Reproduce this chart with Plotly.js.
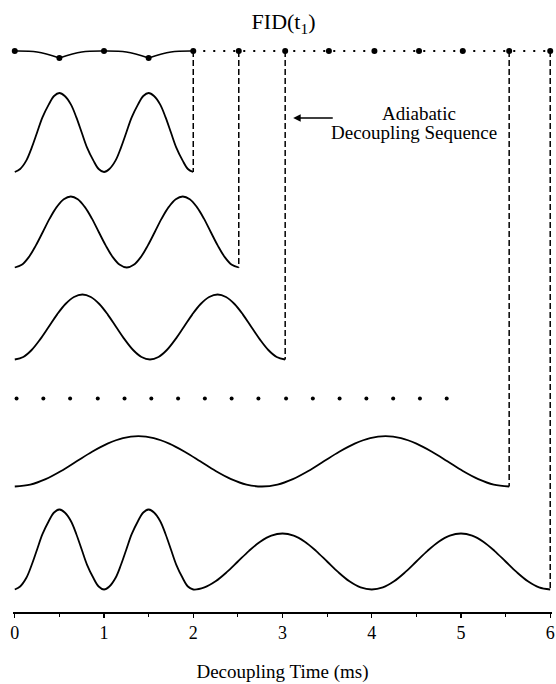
<!DOCTYPE html>
<html>
<head>
<meta charset="utf-8">
<script src="https://cdn.plot.ly/plotly-3.0.1.min.js"></script>
<style>html,body{margin:0;padding:0;background:#fff}#chart{width:556px;height:684px}</style>
</head>
<body>
<div id="chart"></div>
<script>
// ---- data (x in ms, y in arbitrary signal level) ----
const xTicks = [0, 1, 2, 3, 4, 5, 6];

// FID(t1) sampling points (top row)
const fidX = [0, 0.5, 1, 1.5, 2, 2.51, 3.03, 3.52, 4.03, 4.53, 5.02, 5.54, 6];
const fidY = [561, 554, 561, 554, 561, 561, 561, 561, 561, 561, 561, 561, 561];
// solid envelope between first points (arcs, null-separated)
const envX = [0, 0.25, 0.5, null, 0.5, 0.75, 1, null, 1, 1.25, 1.5, null, 1.5, 1.75, 2];
const envY = [561, 560, 554, null, 554, 560, 561, null, 561, 560, 554, null, 554, 560, 561];
// dotted continuation
const dotLineX = [2, 6];
const dotLineY = [561, 561];

// waveforms (points read at 1/16-period spacing)
const c1X = [0, 0.06, 0.13, 0.19, 0.25, 0.31, 0.38, 0.44, 0.5, 0.56, 0.63, 0.69, 0.75, 0.81, 0.88, 0.94, 1,
             1.06, 1.13, 1.19, 1.25, 1.31, 1.38, 1.44, 1.5, 1.56, 1.63, 1.69, 1.75, 1.81, 1.88, 1.94, 2];
const c1Y = [440, 443, 451.6, 464.4, 479.5, 494.6, 507.4, 516, 519, 516, 507.4, 494.6, 479.5, 464.4, 451.6, 443, 440,
             443, 451.6, 464.4, 479.5, 494.6, 507.4, 516, 519, 516, 507.4, 494.6, 479.5, 464.4, 451.6, 443, 440];
const c2X = [0, 0.078, 0.157, 0.235, 0.314, 0.392, 0.471, 0.549, 0.628, 0.706, 0.784, 0.863, 0.941, 1.02, 1.098, 1.177, 1.255,
             1.333, 1.412, 1.49, 1.569, 1.647, 1.726, 1.804, 1.882, 1.961, 2.039, 2.118, 2.196, 2.275, 2.353, 2.432, 2.51];
const c2Y = [344.5, 347.2, 354.9, 366.4, 380, 393.6, 405.1, 412.8, 415.5, 412.8, 405.1, 393.6, 380, 366.4, 354.9, 347.2, 344.5,
             347.2, 354.9, 366.4, 380, 393.6, 405.1, 412.8, 415.5, 412.8, 405.1, 393.6, 380, 366.4, 354.9, 347.2, 344.5];
const c3X = [0, 0.095, 0.189, 0.284, 0.379, 0.473, 0.568, 0.663, 0.758, 0.852, 0.947, 1.042, 1.136, 1.231, 1.326, 1.42, 1.515,
             1.61, 1.704, 1.799, 1.894, 1.988, 2.083, 2.178, 2.273, 2.367, 2.462, 2.557, 2.651, 2.746, 2.841, 2.935, 3.03];
const c3Y = [252.5, 255, 262, 272.6, 285, 297.4, 308, 315, 317.5, 315, 308, 297.4, 285, 272.6, 262, 255, 252.5,
             255, 262, 272.6, 285, 297.4, 308, 315, 317.5, 315, 308, 297.4, 285, 272.6, 262, 255, 252.5];
const c5X = [0, 0.173, 0.346, 0.519, 0.693, 0.866, 1.039, 1.212, 1.385, 1.558, 1.731, 1.904, 2.078, 2.251, 2.424, 2.597, 2.77,
             2.943, 3.116, 3.289, 3.463, 3.636, 3.809, 3.982, 4.155, 4.328, 4.501, 4.674, 4.848, 5.021, 5.194, 5.367, 5.54];
const c5Y = [125.5, 127.4, 132.9, 141, 150.7, 160.3, 168.4, 173.9, 175.8, 173.9, 168.4, 160.3, 150.7, 141, 132.9, 127.4, 125.5,
             127.4, 132.9, 141, 150.7, 160.3, 168.4, 173.9, 175.8, 173.9, 168.4, 160.3, 150.7, 141, 132.9, 127.4, 125.5];
const c6X = [0, 0.06, 0.13, 0.19, 0.25, 0.31, 0.38, 0.44, 0.5, 0.56, 0.63, 0.69, 0.75, 0.81, 0.88, 0.94, 1,
             1.06, 1.13, 1.19, 1.25, 1.31, 1.38, 1.44, 1.5, 1.56, 1.63, 1.69, 1.75, 1.81, 1.88, 1.94, 2,
             2.125, 2.25, 2.375, 2.5, 2.625, 2.75, 2.875, 3, 3.125, 3.25, 3.375, 3.5, 3.625, 3.75, 3.875, 4,
             4.125, 4.25, 4.375, 4.5, 4.625, 4.75, 4.875, 5, 5.125, 5.25, 5.375, 5.5, 5.625, 5.75, 5.875, 6];
const c6Y = [22.5, 25.5, 34.2, 47.2, 62.5, 77.8, 90.8, 99.5, 102.5, 99.5, 90.8, 77.8, 62.5, 47.2, 34.2, 25.5, 22.5,
             25.5, 34.2, 47.2, 62.5, 77.8, 90.8, 99.5, 102.5, 99.5, 90.8, 77.8, 62.5, 47.2, 34.2, 25.5, 22.5,
             24.6, 30.7, 39.8, 50.5, 61.2, 70.3, 76.4, 78.5, 76.4, 70.3, 61.2, 50.5, 39.8, 30.7, 24.6, 22.5,
             24.6, 30.7, 39.8, 50.5, 61.2, 70.3, 76.4, 78.5, 76.4, 70.3, 61.2, 50.5, 39.8, 30.7, 24.6, 22.5];

// ellipsis row of dots
const ellX = [0.02, 0.32, 0.62, 0.93, 1.23, 1.53, 1.83, 2.13, 2.43, 2.73, 3.04, 3.34, 3.64, 3.94, 4.24, 4.54, 4.84];
const ellY = ellX.map(() => 213.5);

// dashed connectors from FID points down to waveform ends
const dashX = [2, 2.51, 3.03, 5.54, 6];
const dashTop = [561, 561, 561, 561, 561];
const dashBottom = [440, 344.5, 252.5, 125.5, 22.5];

// ---- build traces ----
const black = '#000';
const serif = 'Liberation Serif, Times New Roman, serif';
const dX = [], dY = [];
dashX.forEach((x, i) => { dX.push(x, x, null); dY.push(dashTop[i], dashBottom[i], null); });

const wave = (x, y) => ({x: x, y: y, mode: 'lines', type: 'scatter',
  line: {color: black, width: 1.8, shape: 'spline', smoothing: 1}, hoverinfo: 'skip'});

const traces = [
  {x: dX, y: dY, mode: 'lines', line: {color: black, width: 1.5, dash: '6px,3px'}, connectgaps: false, hoverinfo: 'skip'},
  {x: dotLineX, y: dotLineY, mode: 'lines', line: {color: black, width: 2.2, dash: '2px,8px'}, hoverinfo: 'skip'},
  {x: envX, y: envY, mode: 'lines', line: {color: black, width: 1.6, shape: 'spline'}, connectgaps: false, hoverinfo: 'skip'},
  {x: fidX, y: fidY, mode: 'markers', marker: {color: black, size: 6}, hoverinfo: 'skip', cliponaxis: false},
  wave(c1X, c1Y), wave(c2X, c2Y), wave(c3X, c3Y), wave(c5X, c5Y), wave(c6X, c6Y),
  {x: ellX, y: ellY, mode: 'markers', marker: {color: black, size: 4}, hoverinfo: 'skip'}
];

const layout = {
  width: 556, height: 684,
  margin: {l: 13, r: 4, t: 0, b: 72},
  paper_bgcolor: '#fff', plot_bgcolor: '#fff',
  showlegend: false,
  font: {family: serif, color: black},
  title: {text: 'FID(t<sub>1</sub>)', font: {family: serif, size: 22, color: black},
    x: 0.51, xanchor: 'center', xref: 'container', y: 0.969, yanchor: 'middle', yref: 'container'},
  xaxis: {
    range: [-0.02, 6.02], showgrid: false, zeroline: false,
    showline: true, linecolor: black, linewidth: 1.5,
    tickmode: 'array', tickvals: xTicks, ticktext: xTicks.map(String),
    ticks: 'outside', ticklen: 4, tickwidth: 1.2, tickcolor: black,
    minor: {dtick: 0.5, ticks: 'outside', ticklen: 3, tickwidth: 1, tickcolor: black, showgrid: false},
    tickfont: {family: serif, size: 18, color: black},
    ticklabeloverflow: 'allow',
    title: {text: 'Decoupling Time (ms)', font: {family: serif, size: 19, color: black}, standoff: 22}
  },
  yaxis: {range: [0, 612], visible: false, showgrid: false, zeroline: false},
  annotations: [
    {x: 3.12, y: 494, xref: 'x', yref: 'y', ax: 3.58, ay: 494, axref: 'x', ayref: 'y',
     text: '', showarrow: true, arrowhead: 2, arrowsize: 1, arrowwidth: 1.5, arrowcolor: black},
    {x: 4.53, y: 499, xref: 'x', yref: 'y', text: 'Adiabatic',
     showarrow: false, font: {family: serif, size: 19, color: black}, align: 'center'},
    {x: 4.47, y: 480, xref: 'x', yref: 'y', text: 'Decoupling Sequence',
     showarrow: false, font: {family: serif, size: 19, color: black}, align: 'center'}
  ]
};

Plotly.newPlot('chart', traces, layout, {staticPlot: true, displayModeBar: false});
</script>
</body>
</html>
